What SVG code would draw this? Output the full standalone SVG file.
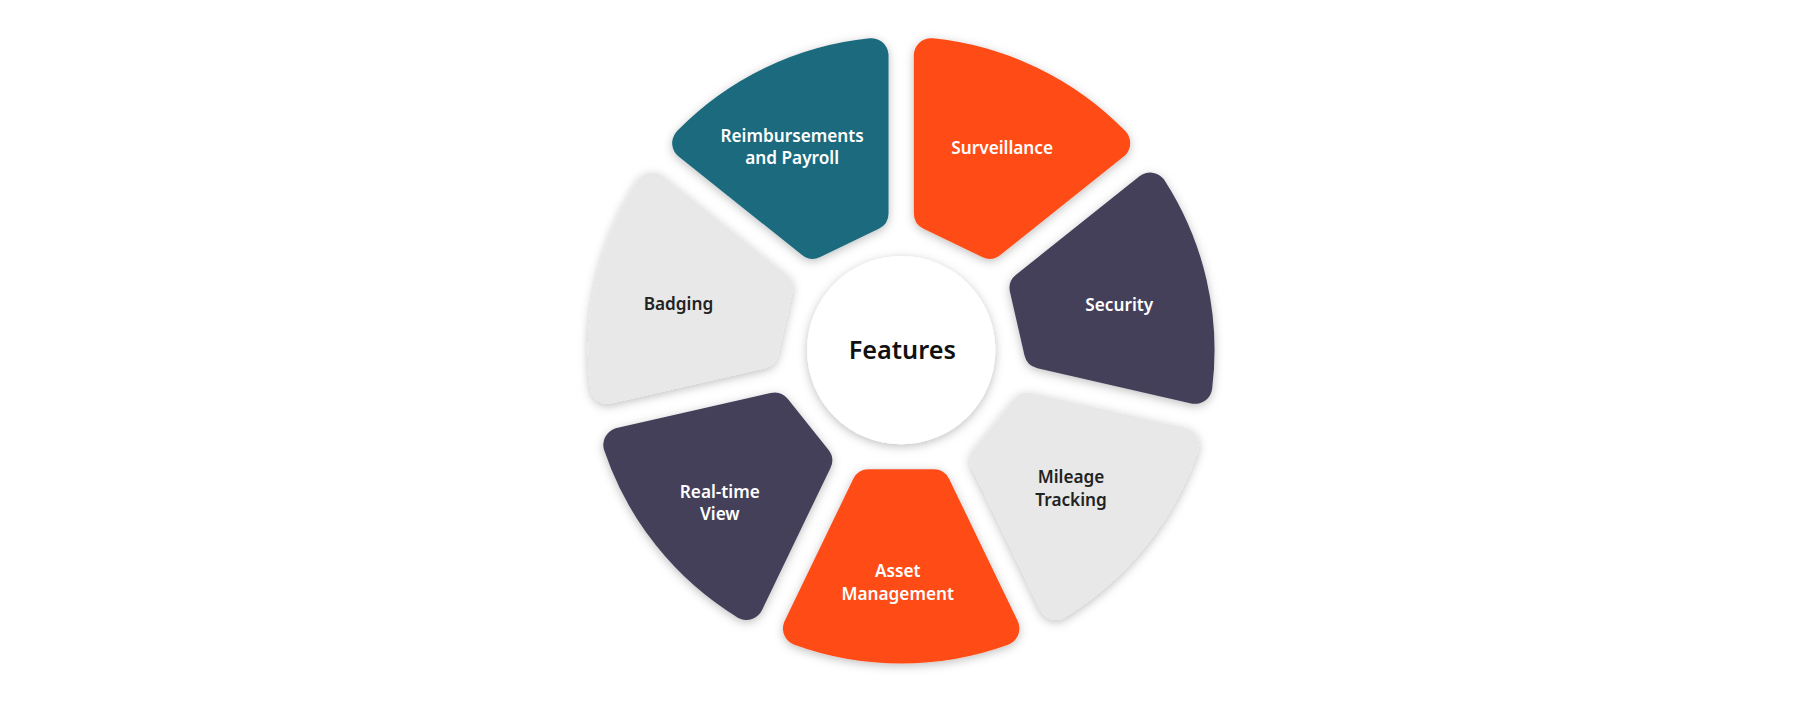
<svg xmlns="http://www.w3.org/2000/svg" width="1800" height="701" viewBox="0 0 1800 701">
<defs>
<filter id="sh" x="-20%" y="-20%" width="140%" height="140%"><feDropShadow dx="0" dy="2" stdDeviation="4" flood-color="#000" flood-opacity="0.25"/></filter>
</defs>
<style>
.p{stroke-width:30;stroke-linejoin:round;filter:url(#sh)}
.t{fill:#1f6b7e;stroke:#1f6b7e}.o{fill:#ff4c19;stroke:#ff4c19}.d{fill:#45405a;stroke:#45405a}.l{fill:#e8e8e8;stroke:#e8e8e8}
text{font-family:"Noto Sans","Open Sans",sans-serif;font-weight:600;font-size:15px;text-anchor:middle}
.w{fill:#fff}.k{fill:#222}
</style>
<rect width="1800" height="701" fill="#fff"/>
<g transform="scale(1.148)">
<g id="surveillance"><path class="p o" d="M811,185.8 L811,48.3 A258,258 0 0 1 969.5,124.7 L862,210.4 Z"/><text class="w" x="873" y="134">Surveillance</text></g>
<g id="security"><path class="p d" d="M894.4,251 L1001.9,165.3 A258,258 0 0 1 1041,336.8 L907,306.2 Z"/><text class="w" x="975" y="271">Security</text></g>
<g id="mileage"><path class="p l" d="M895.4,356.9 L1029.5,387.5 A258,258 0 0 1 919.8,525 L860.1,401.1 Z"/><text class="k" x="933" y="421">Mileage</text><text class="k" x="933" y="441">Tracking</text></g>
<g id="asset"><path class="p o" d="M813.3,423.7 L873,547.5 A258,258 0 0 1 697,547.5 L756.7,423.7 Z"/><text class="w" x="782" y="503">Asset</text><text class="w" x="782" y="523">Management</text></g>
<g id="realtime"><path class="p d" d="M709.9,401.1 L650.2,525 A258,258 0 0 1 540.5,387.5 L674.6,356.9 Z"/><text class="w" x="627" y="434">Real-time</text><text class="w" x="627" y="453">View</text></g>
<g id="badging"><path class="p l" d="M663,306.2 L529,336.8 A258,258 0 0 1 568.1,165.3 L675.6,251 Z"/><text class="k" x="591" y="270">Badging</text></g>
<g id="reimbursements"><path class="p t" d="M708,210.4 L600.5,124.7 A258,258 0 0 1 759,48.3 L759,185.8 Z"/><text class="w" x="690" y="124">Reimbursements</text><text class="w" x="690" y="143">and Payroll</text></g>
<g id="features"><circle cx="785" cy="305" r="82" fill="#fff" filter="url(#sh)"/><text x="786" y="313" style="font-size:22px;fill:#111">Features</text></g>
<g id="connectors"/>
</g>
</svg>
